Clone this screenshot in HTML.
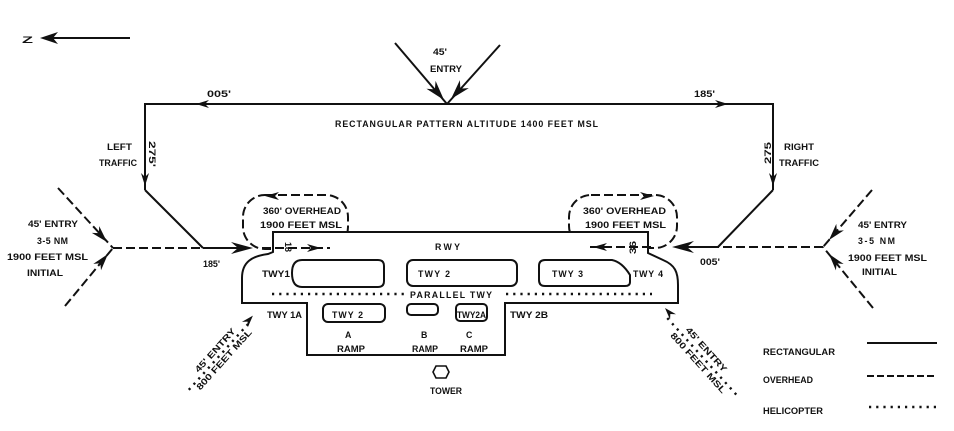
<!DOCTYPE html>
<html><head><meta charset="utf-8"><style>
html,body{margin:0;padding:0;background:#fff;}
svg{display:block;}
text{font-family:"Liberation Sans",sans-serif;font-weight:bold;font-size:8.8px;fill:#111;}
</style></head><body>
<svg width="954" height="431" viewBox="0 0 954 431" xmlns="http://www.w3.org/2000/svg">
<g stroke="#111" fill="none" stroke-width="2">
<!-- compass -->
<line x1="44" y1="38" x2="130" y2="38"/>
<!-- rectangular pattern -->
<polyline points="145,190 145,104 773,104 773,190"/>
<line x1="145" y1="190" x2="203" y2="248"/>
<line x1="203" y1="248" x2="240" y2="248"/>
<line x1="773" y1="190" x2="718" y2="247"/>
<line x1="718" y1="247" x2="685" y2="247"/>
<!-- top entry -->
<line x1="395" y1="43" x2="447" y2="104"/>
<line x1="500" y1="45" x2="447" y2="104"/>
<!-- dashed entries -->
<g stroke-dasharray="9 4">
<line x1="113" y1="248" x2="203" y2="248"/>
<line x1="58" y1="188" x2="113" y2="248"/>
<line x1="65" y1="306" x2="113" y2="248"/>
<line x1="823" y1="247" x2="718" y2="247"/>
<line x1="872" y1="190" x2="823" y2="247"/>
<line x1="873" y1="308" x2="823" y2="247"/>
<rect x="243" y="195" width="105" height="54" rx="22" ry="22"/>
<rect x="569" y="195" width="108" height="53" rx="22" ry="22"/>
</g>
<!-- airport outline -->
<path d="M273,232 L648,232 L648,253 L663,260 C675,265 678,272 678,285 L678,303 L505,303 L505,355 L307,355 L307,303 L242,303 L242,278 C242,262 252,256 268,254 L273,252 Z" fill="#fff"/>
<!-- islands -->
<path d="M302,260 L378,260 Q384,260 384,266 L384,281 Q384,287 378,287 L302,287 Q292,287 292,273 Q292,260 302,260 Z"/>
<rect x="407" y="260" width="110" height="26" rx="6"/>
<path d="M545,260 L612,260 Q622,262 630,275 L630,282 Q630,286 625,286 L545,286 Q539,286 539,280 L539,266 Q539,260 545,260 Z"/>
<rect x="323" y="304" width="62" height="18" rx="5"/>
<rect x="407" y="304" width="31" height="11" rx="4"/>
<rect x="456" y="304" width="31" height="17" rx="4"/>
<!-- tower -->
<polygon points="436,366 446,366 449,372 446,378 436,378 433,372" stroke-width="1.6"/>
<!-- legend -->
<line x1="867" y1="343" x2="937" y2="343"/>
<line x1="867" y1="376" x2="937" y2="376" stroke-dasharray="7 3"/>
</g>
<!-- dotted lines -->
<g stroke="#111" fill="none" stroke-width="2.4" stroke-dasharray="2.2 5">
<line x1="272" y1="294" x2="406" y2="294"/>
<line x1="506" y1="294" x2="652" y2="294"/>
<line x1="869" y1="407" x2="937" y2="407"/>
</g>
<!-- loop bottom redraw on top of runway -->
<g stroke="#111" fill="none" stroke-width="2" stroke-dasharray="9 4">
<line x1="262" y1="248" x2="330" y2="248"/>
<line x1="590" y1="247" x2="655" y2="247"/>
</g>
<!-- helicopter entries -->
<g transform="translate(186,390) rotate(-48)">
<line x1="2" y1="2" x2="92" y2="2" stroke="#111" stroke-width="2.4" stroke-dasharray="2.2 5"/>
<polygon points="100,0 88,-4 92,0 88,4" fill="#111"/>
<text x="21" y="-2" font-size="8" textLength="56" lengthAdjust="spacingAndGlyphs">45' ENTRY</text>
<text x="9" y="11" font-size="8" textLength="78" lengthAdjust="spacingAndGlyphs">800 FEET MSL</text>
</g>
<g transform="translate(665,308) rotate(48)">
<line x1="9" y1="5" x2="112" y2="5" stroke="#111" stroke-width="2.4" stroke-dasharray="2.2 5"/>
<polygon points="0,0 12,-4 8,0 12,4" fill="#111"/>
<text x="30" y="0" font-size="8" textLength="57" lengthAdjust="spacingAndGlyphs">45' ENTRY</text>
<text x="24" y="15" font-size="8" textLength="78" lengthAdjust="spacingAndGlyphs">800 FEET MSL</text>
</g>
<!-- arrowheads -->
<g fill="#111">
<g transform="translate(40,38) rotate(180)"><polygon points="0,0 -18,-6 -13,0 -18,6"/></g>
<g transform="translate(196,104) rotate(180)"><polygon points="0,0 -13,-4 -9,0 -13,4"/></g>
<g transform="translate(728,104)"><polygon points="0,0 -13,-4 -9,0 -13,4"/></g>
<g transform="translate(444,100) rotate(49.5)"><polygon points="0,0 -20,-6 -14,0 -20,6"/></g>
<g transform="translate(451,99) rotate(131.9)"><polygon points="0,0 -20,-6 -14,0 -20,6"/></g>
<g transform="translate(145,186) rotate(90)"><polygon points="0,0 -13,-4 -9,0 -13,4"/></g>
<g transform="translate(773,186) rotate(90)"><polygon points="0,0 -13,-4 -9,0 -13,4"/></g>
<g transform="translate(253,248)"><polygon points="0,0 -22,-6 -15,0 -22,6"/></g>
<g transform="translate(672,247) rotate(180)"><polygon points="0,0 -22,-6 -15,0 -22,6"/></g>
<g transform="translate(107,242) rotate(47.5)"><polygon points="0,0 -17,-5 -12,0 -17,5"/></g>
<g transform="translate(108,254) rotate(-50.4)"><polygon points="0,0 -17,-5 -12,0 -17,5"/></g>
<g transform="translate(829,240) rotate(130.7)"><polygon points="0,0 -17,-5 -12,0 -17,5"/></g>
<g transform="translate(829,254) rotate(230.7)"><polygon points="0,0 -17,-5 -12,0 -17,5"/></g>
<g transform="translate(265,196) rotate(180)"><polygon points="0,0 -14,-4 -10,0 -14,4"/></g>
<g transform="translate(321,248)"><polygon points="0,0 -14,-4 -10,0 -14,4"/></g>
<g transform="translate(654,196)"><polygon points="0,0 -14,-4 -10,0 -14,4"/></g>
<g transform="translate(593,247) rotate(180)"><polygon points="0,0 -14,-4 -10,0 -14,4"/></g>
</g>
<!-- text -->
<text x="22" y="43" font-size="12" textLength="11" lengthAdjust="spacingAndGlyphs">Z</text>
<text x="207" y="97" textLength="24" lengthAdjust="spacingAndGlyphs">005'</text>
<text x="694" y="97" textLength="21" lengthAdjust="spacingAndGlyphs">185'</text>
<text x="433" y="55" textLength="14" lengthAdjust="spacingAndGlyphs">45'</text>
<text x="430" y="72" textLength="32" lengthAdjust="spacingAndGlyphs">ENTRY</text>
<text x="335" y="127" textLength="263" lengthAdjust="spacing">RECTANGULAR  PATTERN  ALTITUDE 1400 FEET MSL</text>
<text x="107" y="150" textLength="25" lengthAdjust="spacingAndGlyphs">LEFT</text>
<text x="99" y="166" textLength="38" lengthAdjust="spacingAndGlyphs">TRAFFIC</text>
<text transform="translate(149,141) rotate(90)" textLength="26" lengthAdjust="spacingAndGlyphs">275'</text>
<text transform="translate(771,164) rotate(-90)" textLength="22" lengthAdjust="spacingAndGlyphs">275</text>
<text x="784" y="150" textLength="30" lengthAdjust="spacingAndGlyphs">RIGHT</text>
<text x="779" y="166" textLength="40" lengthAdjust="spacingAndGlyphs">TRAFFIC</text>
<text x="28" y="227" textLength="50" lengthAdjust="spacingAndGlyphs">45' ENTRY</text>
<text x="37" y="244" textLength="31" lengthAdjust="spacing">3-5 NM</text>
<text x="7" y="260" textLength="81" lengthAdjust="spacingAndGlyphs">1900 FEET MSL</text>
<text x="27" y="276" textLength="36" lengthAdjust="spacingAndGlyphs">INITIAL</text>
<text x="858" y="228" textLength="49" lengthAdjust="spacingAndGlyphs">45' ENTRY</text>
<text x="858" y="244" textLength="37" lengthAdjust="spacing">3-5 NM</text>
<text x="848" y="261" textLength="79" lengthAdjust="spacingAndGlyphs">1900 FEET MSL</text>
<text x="862" y="275" textLength="35" lengthAdjust="spacingAndGlyphs">INITIAL</text>
<text x="203" y="267" textLength="17" lengthAdjust="spacingAndGlyphs">185'</text>
<text x="700" y="265" textLength="20" lengthAdjust="spacingAndGlyphs">005'</text>
<text x="263" y="214" textLength="78" lengthAdjust="spacingAndGlyphs">360' OVERHEAD</text>
<text x="260" y="228" textLength="82" lengthAdjust="spacingAndGlyphs">1900  FEET MSL</text>
<text x="583" y="214" textLength="83" lengthAdjust="spacingAndGlyphs">360' OVERHEAD</text>
<text x="585" y="228" textLength="81" lengthAdjust="spacingAndGlyphs">1900  FEET MSL</text>
<text transform="translate(285,242) rotate(90)" font-size="8" textLength="10" lengthAdjust="spacingAndGlyphs">18</text>
<text transform="translate(636,254) rotate(-90)" font-size="9" textLength="13" lengthAdjust="spacingAndGlyphs">36</text>
<text x="435" y="250" textLength="25" lengthAdjust="spacing">RWY</text>
<text x="262" y="277" textLength="28" lengthAdjust="spacingAndGlyphs">TWY1</text>
<text x="418" y="277" textLength="32" lengthAdjust="spacing">TWY 2</text>
<text x="552" y="277" textLength="31" lengthAdjust="spacing">TWY 3</text>
<text x="633" y="277" textLength="30" lengthAdjust="spacing">TWY 4</text>
<text x="410" y="298" textLength="82" lengthAdjust="spacing">PARALLEL  TWY</text>
<text x="267" y="318" textLength="35" lengthAdjust="spacingAndGlyphs">TWY 1A</text>
<text x="332" y="318" textLength="31" lengthAdjust="spacing">TWY 2</text>
<text x="457" y="318" textLength="29" lengthAdjust="spacingAndGlyphs">TWY2A</text>
<text x="510" y="318" textLength="38" lengthAdjust="spacingAndGlyphs">TWY 2B</text>
<text x="345" y="338">A</text>
<text x="421" y="338">B</text>
<text x="466" y="338">C</text>
<text x="337" y="352" textLength="28" lengthAdjust="spacingAndGlyphs">RAMP</text>
<text x="412" y="352" textLength="26" lengthAdjust="spacingAndGlyphs">RAMP</text>
<text x="460" y="352" textLength="28" lengthAdjust="spacingAndGlyphs">RAMP</text>
<text x="430" y="394" textLength="32" lengthAdjust="spacingAndGlyphs">TOWER</text>
<text x="763" y="355" font-size="9.5" textLength="72" lengthAdjust="spacingAndGlyphs">RECTANGULAR</text>
<text x="763" y="383" font-size="9.5" textLength="50" lengthAdjust="spacingAndGlyphs">OVERHEAD</text>
<text x="763" y="414" font-size="9.5" textLength="60" lengthAdjust="spacingAndGlyphs">HELICOPTER</text>
</svg>
</body></html>
